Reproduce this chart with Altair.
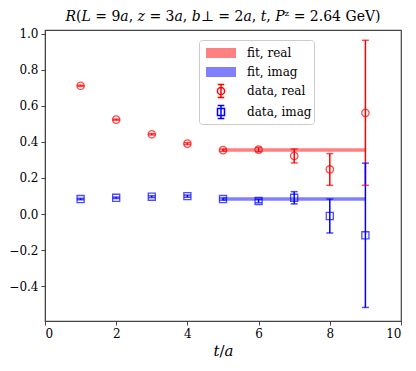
import altair as alt
import pandas as pd

t = [1, 2, 3, 4, 5, 6, 7, 8, 9]
real_val = [0.711, 0.523, 0.442, 0.390, 0.354, 0.357, 0.322, 0.247, 0.561]
real_err = [0.003, 0.003, 0.004, 0.005, 0.006, 0.012, 0.039, 0.088, 0.402]
imag_val = [0.083, 0.090, 0.096, 0.099, 0.083, 0.072, 0.090, -0.011, -0.118]
imag_err = [0.004, 0.004, 0.005, 0.006, 0.006, 0.010, 0.034, 0.094, 0.400]

fit_names = ["fit, real", "fit, imag"]
fit_val = [0.355, 0.083]
fit_err = [0.010, 0.010]
fit_tmin = [5, 5]
fit_tmax = [9, 9]

series = ["fit, real", "fit, imag", "data, real", "data, imag"]
colors = ["#ff8080", "#8080ff", "#ff0000", "#0000ff"]

rows = []
for i in range(len(t)):
    rows.append({"t": t[i], "v": real_val[i], "lo": real_val[i] - real_err[i],
                 "hi": real_val[i] + real_err[i], "series": "data, real"})
for i in range(len(t)):
    rows.append({"t": t[i], "v": imag_val[i], "lo": imag_val[i] - imag_err[i],
                 "hi": imag_val[i] + imag_err[i], "series": "data, imag"})
df = pd.DataFrame(rows)

fit_df = pd.DataFrame({"series": fit_names, "t0": fit_tmin, "t1": fit_tmax,
                       "lo": [v - e for v, e in zip(fit_val, fit_err)],
                       "hi": [v + e for v, e in zip(fit_val, fit_err)]})

FONT = "'DejaVu Serif', 'Liberation Serif', serif"
xs = alt.Scale(domain=[0, 10], nice=False, zero=False)
ys = alt.Scale(domain=[-0.593, 1.02], nice=False, zero=False)
# colour scale for the marks (domain order differs from the legend scales so the
# hidden colour legend is not merged with the visible one)
cscale = alt.Scale(domain=series[::-1], range=colors[::-1])

# legend glyphs (symbol box 20px, 1 unit = 10px)
path_fit = "M-1.5,-0.5H1.5V0.5H-1.5Z"
path_dr = ("M-0.36,0A0.36,0.36 0 1,0 0.36,0A0.36,0.36 0 1,0 -0.36,0"
           "M0,-0.65V0.65M-0.33,-0.65H0.33M-0.33,0.65H0.33")
path_di = ("M-0.35,-0.35H0.35V0.35H-0.35Z"
           "M0,-0.65V0.65M-0.33,-0.65H0.33M-0.33,0.65H0.33")

xax = alt.Axis(values=[0, 2, 4, 6, 8, 10], title="𝑡/𝑎", titleFont=FONT, titleFontSize=15,
               titleFontWeight="normal", titleColor="black", titlePadding=4,
               labelFont=FONT, labelFontSize=12, labelColor="black", grid=False,
               tickColor="#444", domainColor="#444", tickSize=4, labelPadding=3)
yax = alt.Axis(values=[-0.4, -0.2, 0.0, 0.2, 0.4, 0.6, 0.8, 1.0], format=".1f", title=None,
               labelFont=FONT, labelFontSize=12, labelColor="black", grid=False,
               tickColor="#444", domainColor="#444", tickSize=4, labelPadding=3)

col = alt.Color("series:N", scale=cscale, legend=None)

band = alt.Chart(fit_df).mark_rect().encode(
    x=alt.X("t0:Q", scale=xs, axis=xax), x2="t1:Q",
    y=alt.Y("lo:Q", scale=ys, axis=yax), y2="hi:Q",
    color=col,
)
bars = alt.Chart(df).mark_rule(strokeWidth=1.5).encode(
    x=alt.X("t:Q", scale=xs), y=alt.Y("lo:Q", scale=ys), y2="hi:Q", color=col,
)
cap_lo = alt.Chart(df).mark_tick(orient="horizontal", size=7, thickness=1.5).encode(
    x=alt.X("t:Q", scale=xs), y=alt.Y("lo:Q", scale=ys), color=col,
)
cap_hi = alt.Chart(df).mark_tick(orient="horizontal", size=7, thickness=1.5).encode(
    x=alt.X("t:Q", scale=xs), y=alt.Y("hi:Q", scale=ys), color=col,
)
pts_r = alt.Chart(df).transform_filter(alt.datum.series == "data, real").mark_point(
    shape="circle", filled=False, strokeWidth=1.3, size=55).encode(
    x=alt.X("t:Q", scale=xs), y=alt.Y("v:Q", scale=ys), color=col,
)
pts_i = alt.Chart(df).transform_filter(alt.datum.series == "data, imag").mark_point(
    shape="square", filled=False, strokeWidth=1.3, size=50).encode(
    x=alt.X("t:Q", scale=xs), y=alt.Y("v:Q", scale=ys), color=col,
)

# zero-size points that only carry the legend
fill_range = ["#ff8080", "#8080ff", "transparent", "transparent"]
stroke_range = ["transparent", "transparent", "#ff0000", "#0000ff"]
legend = alt.Legend(
    title=None, orient="none", legendX=154, legendY=10,
    fillColor="white", strokeColor="#cccccc", cornerRadius=3, padding=2,
    labelFont=FONT, labelFontSize=12, labelColor="black", symbolSize=400,
    symbolStrokeWidth=1.5, symbolOpacity=1, symbolOffset=9,
    rowPadding=0, labelOffset=15,
)
driver = alt.Chart(df).mark_point(size=0).encode(
    x=alt.X("t:Q", scale=xs), y=alt.Y("v:Q", scale=ys),
    fill=alt.Fill("series:N", scale=alt.Scale(domain=series, range=fill_range), legend=legend),
    stroke=alt.Stroke("series:N", scale=alt.Scale(domain=series, range=stroke_range), legend=legend),
    shape=alt.Shape("series:N", scale=alt.Scale(domain=series,
                    range=[path_fit, path_fit, path_dr, path_di]), legend=legend),
)

chart = alt.layer(band, bars, cap_lo, cap_hi, pts_r, pts_i, driver).properties(
    width=356, height=291,
    title=alt.TitleParams("𝑅(𝐿 = 9𝑎, 𝑧 = 3𝑎,  𝑏⊥ = 2𝑎, 𝑡,  𝑃ᶻ = 2.64 GeV)", font=FONT,
                          fontSize=14, fontWeight="normal", color="black", offset=4),
    autosize=alt.AutoSizeParams(type="none"),
    padding={"left": 37, "top": 22, "right": 7, "bottom": 42},
).configure_view(stroke="#444", strokeWidth=1.2)

chart.save("out.html", embed_options={"renderer": "svg", "actions": False})
